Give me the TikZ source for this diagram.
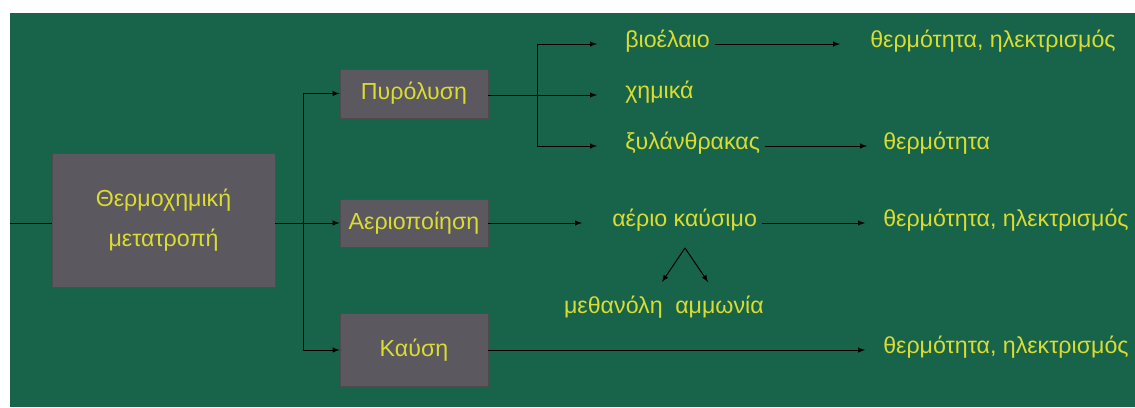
\documentclass[tikz,border=0pt]{standalone}
\usepackage{fontspec}
\setmainfont{Liberation Sans}
\usetikzlibrary{arrows,positioning,calc}
\definecolor{boardgreen}{RGB}{24,100,75}
\definecolor{boxgray}{RGB}{92,88,96}
\definecolor{chalkyellow}{RGB}{218,220,48}

\begin{document}
\begin{tikzpicture}[x=0.025cm,y=-0.025cm,>=latex,
	stage/.style={fill=boxgray,draw=black!70,line width=0.6pt,text=chalkyellow,minimum width=3.7cm,align=center,inner sep=0pt,font=\fontsize{16.5}{28}\selectfont},
	product/.style={text=chalkyellow,anchor=west,inner sep=0pt,text height=0.75em,text depth=0.25em,font=\fontsize{16.5}{20}\selectfont},
	link/.style={draw=black,line width=0.7pt}]
	%
	% board
	\fill[white] (0,0) rectangle (1135,407);
	\fill[boardgreen] (10,13) rectangle (1135,407);
	\useasboundingbox (0,0) rectangle (1135,407);
	%
	% stages
	\node[stage,minimum width=5.575cm,minimum height=3.35cm] (thermo) at (163.5,220) {Θερμοχημική\\μετατροπή};
	\node[stage,minimum height=1.225cm] (pyro) at (414,93.5) {Πυρόλυση};
	\node[stage,minimum height=1.2cm] (gasif) at (414,223) {Αεριοποίηση};
	\node[stage,minimum height=1.825cm] (burn) at (414,350) {Καύση};
	%
	% products
	\node[product] (biooil) at (625,44) {βιοέλαιο};
	\node[product] (chem) at (625,95) {χημικά};
	\node[product] (char) at (625,146) {ξυλάνθρακας};
	\node[product] (gasfuel) at (612,223) {αέριο καύσιμο};
	\node[product,anchor=east] (methanol) at (663,310) {μεθανόλη};
	\node[product] (ammonia) at (675,310) {αμμωνία};
	\node[product] (heatA) at (870,44) {θερμότητα, ηλεκτρισμός};
	\node[product] (heatB) at (883,146) {θερμότητα};
	\node[product] (heatC) at (883,223) {θερμότητα, ηλεκτρισμός};
	\node[product] (heatD) at (883,350) {θερμότητα, ηλεκτρισμός};
	%
	% branching
	\coordinate (in) at (10,223);
	\coordinate (split1) at (303,223);
	\coordinate (split2) at (537,95);
	\coordinate (fork) at (685,248);
	\coordinate (toMeth) at (662,282);
	\coordinate (toAmm) at (708,282);
	%
	\draw[link] (in) -- (in -| thermo.west);
	\draw[link] (thermo.east |- split1) -- (split1);
	\draw[link,->] (split1) -- (gasif.west);
	\draw[link,->] (split1) |- (pyro.west);
	\draw[link,->] (split1) |- (burn.west);
	%
	\draw[link] (pyro.east |- split2) -- (split2);
	\draw[link,->,shorten >=7mm] (split2) |- (biooil.west);
	\draw[link,->,shorten >=7mm] (split2) -- (chem.west);
	\draw[link,->,shorten >=7mm] (split2) |- (char.west);
	\draw[link,->,shorten >=7.5mm] (gasif.east) -- (gasfuel.west);
	%
	\draw[link,->,shorten <=1.25mm,shorten >=7.5mm] (biooil.east) -- (heatA.west);
	\draw[link,->,shorten <=1.25mm,shorten >=4mm] (char.east) -- (heatB.west);
	\draw[link,->,shorten <=1.25mm,shorten >=4.5mm] (gasfuel.east) -- (heatC.west);
	\draw[link,->,shorten >=4.5mm] (burn.east) -- (heatD.west);
	%
	\draw[link,->] (fork) -- (toMeth);
	\draw[link,->] (fork) -- (toAmm);
\end{tikzpicture}
\end{document}
